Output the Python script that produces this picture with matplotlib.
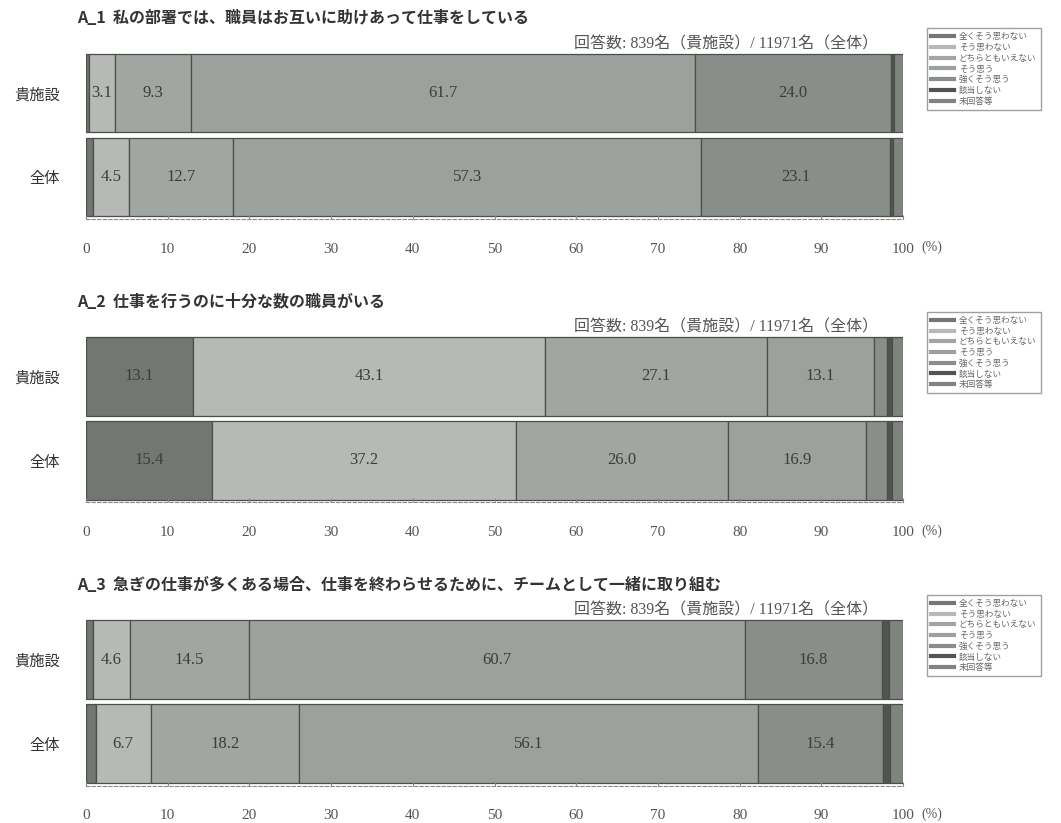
import matplotlib
matplotlib.use("Agg")
import matplotlib.pyplot as plt
from matplotlib.lines import Line2D

plt.rcParams['font.family'] = ['Noto Sans CJK JP', 'DejaVu Sans']

# データ
categories = ['全くそう思わない', 'そう思わない', 'どちらともいえない', 'そう思う',
              '強くそう思う', '該当しない', '未回答等']
groups = ['貴施設', '全体']
titles = ['A_1  私の部署では、職員はお互いに助けあって仕事をしている',
          'A_2  仕事を行うのに十分な数の職員がいる',
          'A_3  急ぎの仕事が多くある場合、仕事を終わらせるために、チームとして一緒に取り組む']
note = '回答数: 839名（貴施設）/ 11971名（全体）'

a1_facility = [0.4, 3.1, 9.3, 61.7, 24.0, 0.4, 1.1]
a1_all = [0.8, 4.5, 12.7, 57.3, 23.1, 0.4, 1.2]
a2_facility = [13.1, 43.1, 27.1, 13.1, 1.6, 0.6, 1.4]
a2_all = [15.4, 37.2, 26.0, 16.9, 2.5, 0.6, 1.4]
a3_facility = [0.8, 4.6, 14.5, 60.7, 16.8, 0.9, 1.7]
a3_all = [1.2, 6.7, 18.2, 56.1, 15.4, 0.8, 1.6]

panels = [(a1_facility, a1_all), (a2_facility, a2_all), (a3_facility, a3_all)]

colors = ['#727772', '#b6b9b6', '#a2a6a2', '#9da19d', '#8a8e8a', '#50554f', '#7f847f']

W, H = 1061, 823
fig = plt.figure(figsize=(W / 100, H / 100), dpi=100)

# 各パネルの配置 (ピクセル: 上端)
tops = [51, 334.5, 617.5]
ax_h = 168
left, right = 86, 903
num_font = ['Liberation Serif', 'Noto Sans CJK JP']

for i, (fac, tot) in enumerate(panels):
    top = tops[i]
    ax = fig.add_axes([left / W, 1 - (top + ax_h) / H, (right - left) / W, ax_h / H])
    for j, vals in enumerate([fac, tot]):
        start = 0
        for k, v in enumerate(vals):
            ax.barh(j, v, left=start, height=0.94, color=colors[k],
                    edgecolor='#4a4f4a', linewidth=0.9)
            if v >= 3:
                ax.text(start + v / 2, j, f'{v:.1f}', ha='center', va='center',
                        fontsize=12, color='#3a3d3a', family=num_font)
            start += v
    ax.set_xlim(0, 100)
    ax.set_ylim(1.5, -0.5)
    ax.set_yticks([0, 1])
    ax.set_yticklabels(groups, fontsize=11, color='#333333')
    ax.set_xticks(range(0, 101, 10))
    ax.set_xticklabels([str(t) for t in range(0, 101, 10)], family=num_font,
                       fontsize=11, color='#555555')
    ax.tick_params(axis='y', length=0, pad=19)
    ax.tick_params(axis='x', length=3, direction='in', pad=17, color='#888888')
    for s in ['top', 'left', 'right']:
        ax.spines[s].set_visible(False)
    ax.spines['bottom'].set_linestyle((0, (3, 2)))
    ax.spines['bottom'].set_color('#888888')
    ax.text(1.023, -0.17, '(%)', transform=ax.transAxes, fontsize=10,
            color='#555555', va='center', ha='left', family=num_font)

    # タイトルと回答数
    fig.text(77 / W, 1 - (top - 33) / H, titles[i], fontsize=11.5, fontweight='bold',
             color='#333333', va='center', ha='left')
    fig.text(878 / W, 1 - (top - 7) / H, note, fontsize=11.5, color='#555555',
             va='center', ha='right', family=num_font)

    # 凡例
    handles = [Line2D([0], [0], color=c, lw=3) for c in colors]
    fig.legend(handles, categories, loc='upper left',
               bbox_to_anchor=(927 / W, 1 - (top - 23) / H), fontsize=6.2,
               frameon=True, fancybox=False, edgecolor='#888888',
               labelspacing=0.2, handlelength=2.6, handletextpad=0.6,
               borderpad=0.5, borderaxespad=0, labelcolor='#666666')

fig.savefig('out.png', dpi=100, facecolor='white')
